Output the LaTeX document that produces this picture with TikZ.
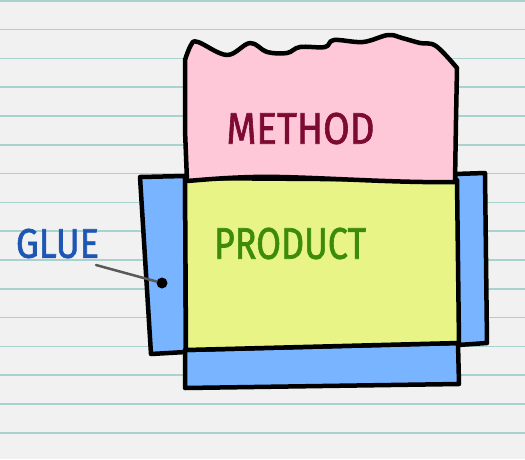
\documentclass[tikz,border=0pt]{standalone}
\usepackage{fontspec}
\setmainfont{Fira Sans}
\newfontfamily\handfont{Fira Sans}[FakeBold=1.6]
\usepackage{graphicx}
\definecolor{paper}{HTML}{F1F1F1}
\definecolor{rule}{HTML}{A9D1D0}
\definecolor{pinkbox}{HTML}{FFC8D8}
\definecolor{yellowbox}{HTML}{E8F486}
\definecolor{bluebox}{HTML}{78B4FF}
\definecolor{methodtxt}{HTML}{7D0A32}
\definecolor{producttxt}{HTML}{3C8C0A}
\definecolor{gluetxt}{HTML}{1E56B4}
\tikzset{
  outline/.style={draw=black, line width=4.5pt, line join=round, line cap=round},
  label/.style={inner sep=0pt, outer sep=0pt, font=\handfont},
}
\begin{document}
\begin{tikzpicture}[x=1pt,y=-1pt]
\useasboundingbox (0,0) rectangle (525,459);
\fill[paper] (0,0) rectangle (525,459);
\foreach \k in {0,...,15} {
  \draw[rule, line width=1.5pt] (0,{0.8+28.8*\k}) -- (525,{0.8+28.8*\k});
}
% blue strips
\filldraw[outline, fill=bluebox] (140,177) -- (185,176) -- (186,352) -- (151,354) -- cycle;
\filldraw[outline, fill=bluebox] (455,174) -- (485,173) -- (487,343) -- (458,345) -- cycle;
\filldraw[outline, fill=bluebox] (185,350) -- (458,343) -- (459,384) -- (185,388) -- cycle;
% yellow product
\filldraw[outline, fill=yellowbox] (185,178) -- (457,180) -- (459,343) -- (186,350) -- cycle;
% pink method
\filldraw[outline, fill=pinkbox]
  plot[smooth, tension=0.6] coordinates {(185,60) (191,45) (198,42) (227,55) (250,43) (267,52) (287,53) (300,47) (325,47) (334,40) (363,42) (388,35) (402,38) (420,43) (436,46) (457,68)}
  -- (456,120) -- (455,182)
  .. controls (400,183) and (330,178) .. (280,177)
  .. controls (240,176) and (200,180) .. (187,181)
  -- (185,130) -- cycle;
% texts
\node[label, text=methodtxt] (method) at (300.5,128.5) {\resizebox{148pt}{31pt}{METHOD}};
\node[label, text=producttxt] (product) at (290,243.5) {\resizebox{152pt}{31pt}{PRODUCT}};
\node[label, text=gluetxt] (glue) at (57.5,243.5) {\resizebox{83pt}{29pt}{GLUE}};
% connector
\node[circle, fill=black, inner sep=0pt, minimum size=11pt] (dot) at (162,283) {};
\coordinate (gluetail) at (96,265);
\draw[line width=2.5pt, color=black!65, line cap=round] (gluetail) -- (dot);
\end{tikzpicture}
\end{document}
